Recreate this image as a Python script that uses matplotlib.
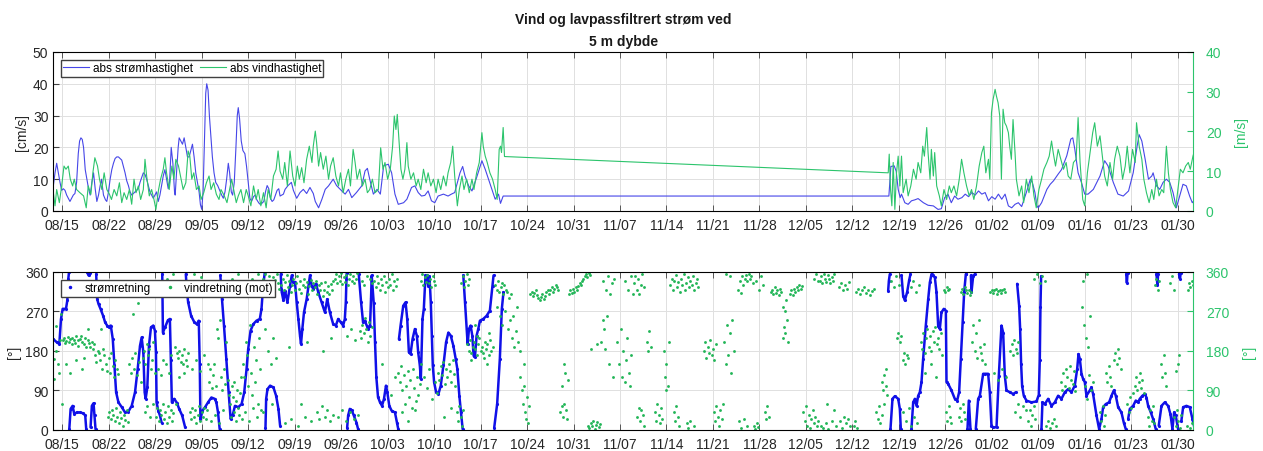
import numpy as np
import matplotlib
matplotlib.use('Agg')
import matplotlib.pyplot as plt
import matplotlib.dates as mdates
from datetime import datetime

plt.rcParams['font.family'] = ['Liberation Sans', 'DejaVu Sans']

# day 0 = 15 Aug, values as (day, value)
cur_speed = [
    (-1.35, 8), (-1.1, 12), (-0.85, 15), (-0.6, 12), (-0.35, 9), (-0.1, 6.5), (0.15, 7), (0.4, 6.5),
    (0.65, 5), (0.9, 4), (1.15, 3), (1.4, 4), (1.65, 5), (1.9, 5.5), (2.15, 9), (2.4, 18), (2.6, 22),
    (2.8, 23), (3.0, 22.5), (3.2, 20), (3.45, 13), (3.7, 10), (3.95, 7), (4.2, 5), (4.45, 9), (4.7, 12),
    (4.95, 7), (5.2, 3), (5.45, 5), (5.7, 8), (5.9, 10), (6.2, 5), (6.5, 3.5), (6.7, 3), (6.95, 6),
    (7.2, 10), (7.45, 13), (7.7, 15), (7.95, 16.5), (8.2, 17), (8.45, 17), (8.7, 16.5), (8.95, 16),
    (9.2, 14), (9.45, 12), (9.7, 9.5), (9.95, 8), (10.2, 6), (10.45, 5), (10.7, 5.5), (10.95, 6),
    (11.2, 6.5), (11.45, 7), (11.7, 9), (11.95, 10.5), (12.2, 12), (12.45, 11.5), (12.7, 10), (12.95, 8),
    (13.2, 6), (13.45, 5), (13.7, 4), (13.95, 5), (14.2, 6), (14.45, 3), (14.7, 5), (14.95, 8), (15.2, 11),
    (15.45, 13), (15.7, 10), (15.95, 7), (16.15, 9), (16.4, 20), (16.65, 15), (16.9, 6), (17.0, 5),
    (17.2, 12), (17.45, 20), (17.6, 23), (17.85, 22), (18.1, 21), (18.35, 23), (18.6, 20), (18.85, 17),
    (19.1, 17), (19.35, 19), (19.6, 21), (19.85, 17), (20.1, 12), (20.35, 9), (20.6, 6), (20.8, 2),
    (21.0, 0.5), (21.2, 6), (21.4, 22), (21.6, 37), (21.75, 40), (21.95, 38), (22.15, 30), (22.35, 24),
    (22.6, 17), (22.85, 12), (23.1, 9), (23.4, 8), (23.7, 6.5), (24.0, 5), (24.25, 4), (24.5, 6),
    (24.75, 10), (25.0, 15), (25.2, 12), (25.45, 6), (25.65, 5), (25.9, 9), (26.15, 20), (26.35, 30),
    (26.5, 32.5), (26.7, 29), (26.95, 22), (27.2, 19), (27.5, 18), (27.75, 14), (28.0, 9), (28.25, 4),
    (28.5, 3), (28.8, 4.5), (29.05, 5), (29.3, 3.5), (29.6, 2.5), (29.85, 2), (30.1, 2.5), (30.35, 3),
    (30.6, 6), (30.85, 8), (31.1, 7), (31.35, 4), (31.6, 3), (31.85, 3.5), (32.1, 5), (32.35, 6.5),
    (32.6, 7), (32.8, 4.7), (33.05, 5), (33.3, 5.3), (33.55, 6.8), (34.0, 8), (34.5, 9), (34.8, 6.5),
    (35.3, 4), (35.8, 5.8), (36.3, 6.8), (36.8, 5.5), (37.3, 7.4), (37.8, 5.5), (38.1, 3), (38.6, 1),
    (39.1, 3.7), (39.6, 6.8), (40.1, 7.9), (40.8, 10), (41.3, 8), (42.1, 6.3), (42.6, 5.3), (43.1, 6.8),
    (43.6, 4.2), (44.3, 5.8), (45.1, 7.9), (45.6, 12.6), (45.95, 13.4), (46.3, 10), (46.85, 5.3),
    (47.4, 6.8), (47.9, 5.3), (48.4, 14.2), (49.1, 14.7), (49.6, 12), (50.1, 5.3), (50.6, 2.1),
    (51.4, 2.6), (51.9, 3.7), (52.6, 7.4), (53.1, 7.9), (53.6, 5.8), (54.1, 4.7), (54.6, 4.9), (55.1, 6.3),
    (55.6, 3.2), (56.1, 2.6), (56.6, 4.7), (57.4, 5.3), (58.1, 4.7), (58.6, 5.3), (59.1, 5.8), (59.9, 12),
    (60.3, 14), (60.65, 11), (61.2, 7.9), (61.7, 6.3), (62.4, 10.5), (63.2, 15.8), (63.7, 13.1), (64.2, 10),
    (64.7, 6.8), (65.2, 3.7), (65.7, 5.3), (66.0, 2.4), (66.4, 4.7), (66.7, 4.7),
    (124.5, 4.7), (124.8, 14), (125.3, 14.2), (125.6, 12.5), (125.9, 6.8), (126.2, 4.2), (126.4, 5.3),
    (126.9, 2.6), (127.4, 2.1), (127.9, 3.2), (128.4, 3.5), (128.9, 3.9), (129.7, 2.6), (130.4, 1.8),
    (131.2, 1.6), (131.9, 0.5), (132.4, 0.7), (132.9, 4.2), (133.4, 5.3), (133.9, 2.6), (134.4, 4.7),
    (134.9, 3.7), (135.5, 4.2), (136.0, 5.3), (136.5, 4.5), (137.0, 5.8), (137.5, 5), (138.0, 6.3),
    (138.5, 5.3), (139.0, 5.8), (139.5, 3.2), (140.0, 4.5), (140.5, 3.7), (141.0, 5.3), (141.5, 3.7),
    (142.0, 5.3), (142.5, 1.6), (143.0, 1), (143.5, 2.1), (144.0, 2.6), (144.5, 1.4), (145.2, 5.8),
    (145.8, 10), (146.1, 9), (146.5, 5.8), (146.8, 1.6), (147.0, 1), (147.5, 2.6), (148.3, 6.8),
    (148.8, 8.4), (149.3, 9.5), (150.0, 11.6), (150.5, 13), (151.3, 17.4), (151.9, 22.6), (152.2, 23),
    (152.5, 19.5), (153.0, 12), (153.5, 9), (154.0, 5.3), (154.5, 5.3), (155.3, 6.8), (156.3, 11),
    (157.0, 15.8), (157.5, 14.2), (158.3, 9), (159.0, 5.3), (159.8, 4.7), (160.6, 6.3), (161.3, 12),
    (161.9, 20.5), (162.2, 24), (162.6, 22), (163.1, 16.3), (163.6, 10), (164.1, 11), (164.3, 12),
    (164.8, 7.9), (165.3, 6.8), (165.8, 9), (166.3, 10), (166.8, 9), (167.3, 5.8), (167.8, 1),
    (168.3, 4.7), (168.8, 8.4), (169.3, 7.9), (169.8, 4.7), (170.2, 2.6), (170.6, 3.7),
]

wind_speed = [
    (-1.35, 4.6), (-1.1, 1.3), (-0.85, 5.4), (-0.45, 2.1), (-0.1, 6.3), (0.25, 11.3), (0.55, 10.5),
    (0.9, 11.3), (1.2, 8), (1.55, 6.3), (1.8, 8), (2.15, 5.4), (2.65, 4.6), (3.2, 3.8), (3.6, 0.8),
    (3.9, 6.3), (4.3, 4.2), (4.6, 9.6), (4.9, 13.4), (5.3, 11.3), (5.6, 8), (5.95, 5.4), (6.3, 9.6),
    (6.7, 5.4), (7.1, 4.2), (7.4, 2.9), (7.8, 5.4), (8.2, 3.8), (8.6, 7.1), (8.95, 2.1), (9.3, 4.6),
    (9.7, 2.9), (10.1, 5.4), (10.45, 1.7), (10.8, 8), (11.1, 4.6), (11.45, 6.3), (11.8, 2.9), (12.2, 5.4),
    (12.45, 13), (12.7, 8.8), (13.1, 3.8), (13.45, 5.4), (13.8, 2.9), (14.1, 0.4), (14.5, 5.4), (14.8, 8),
    (15.2, 10.5), (15.45, 13.4), (15.7, 9.6), (16.1, 5.4), (16.5, 11.3), (16.8, 8), (17.1, 13),
    (17.5, 11.3), (17.8, 8.8), (18.2, 5.4), (18.6, 7.1), (18.95, 15.1), (19.2, 13.8), (19.5, 8),
    (19.8, 9.6), (20.2, 5.4), (20.6, 6.3), (20.9, 2.9), (21.3, 4.6), (21.7, 7.1), (22.1, 8.8), (22.4, 5.4),
    (22.8, 7.1), (23.2, 4.2), (23.6, 2.9), (23.9, 5.4), (24.4, 3.8), (24.8, 2.1), (25.2, 5.4), (25.5, 8),
    (25.9, 4.6), (26.2, 2.1), (26.5, 3.8), (26.9, 5.4), (27.3, 2.1), (27.7, 5.4), (28.0, 3.8), (28.4, 1.3),
    (28.8, 6.3), (29.2, 2.9), (29.5, 5.4), (29.9, 1.3), (30.3, 4.6), (30.7, 0.8), (31.0, 5.4), (31.4, 2.9),
    (31.8, 8.8), (32.2, 10.5), (32.5, 15.1), (32.8, 10), (33.2, 8), (33.5, 12.2), (33.9, 6.3), (34.3, 15.1),
    (34.7, 8.8), (35.05, 6.3), (35.4, 11.3), (35.7, 8), (36.05, 10.9), (36.4, 7.1), (36.8, 13),
    (37.2, 16.3), (37.6, 12.2), (37.8, 16.3), (38.1, 20.1), (38.3, 17.2), (38.6, 11.3), (38.9, 14.7),
    (39.3, 10.5), (39.7, 13.8), (40.1, 8), (40.4, 11.3), (40.8, 13.4), (41.2, 8.8), (41.6, 6.3),
    (41.9, 9.6), (42.3, 4.6), (42.7, 8), (43.1, 10.5), (43.4, 6.3), (43.8, 15.5), (44.1, 12.2), (44.4, 8),
    (44.8, 10.5), (45.2, 6.3), (45.6, 8), (45.95, 4.6), (46.3, 5.4), (46.7, 8), (47.1, 4.6), (47.6, 5.4),
    (47.95, 15.9), (48.3, 10.5), (48.6, 12.2), (49.0, 8), (49.4, 10.5), (49.75, 16.3), (50.0, 23.9),
    (50.25, 20.5), (50.45, 24.3), (50.7, 18), (51.0, 10.5), (51.3, 8), (51.6, 10.5), (51.9, 17.2),
    (52.1, 11.3), (52.5, 8), (52.9, 9.6), (53.3, 6.3), (53.6, 8), (54.0, 5.4), (54.4, 10.5), (54.8, 7.1),
    (55.1, 9.6), (55.5, 6.3), (55.9, 8), (56.3, 4.6), (56.6, 8), (57.0, 5.4), (57.4, 8.8), (57.8, 6.3),
    (58.1, 9.6), (58.5, 12.2), (58.8, 16.3), (59.1, 8.8), (59.5, 1.3), (59.8, 5.4), (60.2, 8.8),
    (60.5, 5.4), (60.9, 8), (61.3, 4.6), (61.7, 8), (62.0, 5.4), (62.4, 9.6), (62.8, 12.2), (63.2, 19.7),
    (63.4, 16.3), (63.7, 13.8), (64.0, 12.2), (64.4, 9.6), (64.8, 8), (65.2, 5.4), (65.5, 2.9),
    (65.8, 15.5), (66.0, 16.3), (66.15, 14.7), (66.4, 21), (66.6, 13.7),
    (124.4, 9.6), (124.55, 14.3), (124.75, 5.4), (124.95, 1.3), (125.15, 12.2), (125.4, 0.4),
    (125.65, 9.6), (125.9, 13.8), (126.15, 6.3), (126.4, 13.8), (126.65, 4.6), (127.1, 8), (127.4, 3.8),
    (127.8, 6.3), (128.2, 10.5), (128.6, 8), (128.9, 12.2), (129.3, 9.6), (129.6, 16.3), (129.85, 13.8),
    (130.2, 21), (130.4, 14.7), (130.7, 8), (130.9, 15.5), (131.2, 8.8), (131.4, 14.7), (131.7, 6.3),
    (132.1, 3.8), (132.4, 1.3), (132.8, 5.4), (133.2, 2.9), (133.6, 6.3), (133.9, 4.6), (134.3, 6.3),
    (134.7, 3.8), (135.1, 8), (135.45, 13), (135.8, 9.6), (136.2, 6.3), (136.6, 3.8), (136.95, 5.4),
    (137.3, 2.9), (137.7, 6.3), (138.1, 11.3), (138.5, 14.7), (138.8, 16.3), (139.1, 9.6), (139.5, 13),
    (139.7, 8), (139.95, 24.7), (140.2, 28.1), (140.5, 30.6), (140.7, 28.9), (140.95, 27.2), (141.2, 23.9),
    (141.45, 8), (141.7, 25.6), (141.95, 22.2), (142.2, 21.4), (142.5, 19.7), (142.7, 16.3), (142.95, 13),
    (143.2, 23), (143.5, 14.7), (143.7, 8), (144.1, 3.8), (144.5, 6.3), (144.8, 2.1), (145.2, 8),
    (145.6, 4.6), (146.0, 8.8), (146.35, 3.8), (146.7, 0.8), (147.1, 5.4), (147.5, 8), (147.85, 10.5),
    (148.3, 12.2), (148.65, 13.8), (149.0, 17.6), (149.25, 14.7), (149.6, 11.3), (150.0, 15.5),
    (150.4, 13), (150.8, 10.5), (151.2, 12.2), (151.5, 8.8), (151.9, 8), (152.3, 12.2), (152.7, 13),
    (153.0, 23.5), (153.3, 12.2), (153.7, 2.9), (154.0, 1.3), (154.4, 9.6), (154.8, 14.7), (155.2, 19.7),
    (155.5, 22.2), (155.9, 16.3), (156.3, 18.9), (156.7, 13), (157.0, 8.8), (157.4, 6.3), (157.8, 12.2),
    (158.2, 8), (158.5, 13), (158.9, 16.3), (159.3, 13.8), (159.7, 8), (160.1, 11.3), (160.4, 16.3),
    (160.8, 9.6), (161.2, 15.5), (161.6, 12.2), (161.8, 22.2), (162.2, 16.3), (162.6, 13), (162.9, 8),
    (163.3, 4.6), (163.7, 2.1), (164.1, 5.4), (164.4, 2.9), (164.8, 8), (165.2, 3.8), (165.6, 5.4),
    (165.9, 4.6), (166.3, 16.3), (166.6, 9.6), (166.9, 5.4), (167.3, 2.1), (167.7, 0.8), (168.1, 6.3),
    (168.4, 10.5), (168.8, 9.6), (169.2, 11.3), (169.6, 12.2), (169.9, 10.5), (170.3, 13.8), (170.6, 15.5),
]

cur_dir = [
    (-1.36, 207), (-0.85, 200), (-0.45, 196), (-0.2, 253), (0.05, 276), (0.55, 276), (0.75, 295),
    (0.9, 344), (1.0, 359), (1.05, 2), (1.25, 48), (1.55, 55), (1.8, 36), (2.15, 40), (2.65, 40),
    (3.15, 38), (3.45, 33), (3.6, 2), (3.75, 359), (3.95, 352), (4.1, 358), (4.25, 6), (4.45, 55),
    (4.7, 61), (4.85, 33), (5.0, 2), (5.1, 355), (5.25, 298), (5.45, 287), (5.75, 276), (6.15, 260),
    (6.45, 245), (6.75, 238), (7.05, 234), (7.3, 238), (7.6, 207), (7.85, 147), (8.1, 86), (8.45, 63),
    (8.95, 52), (9.45, 40), (9.95, 42), (10.45, 55), (10.95, 86), (11.35, 139), (11.7, 192), (11.95, 211),
    (12.2, 177), (12.4, 86), (12.55, 71), (12.8, 97), (13.05, 192), (13.35, 234), (13.7, 238),
    (13.95, 226), (14.1, 177), (14.2, 63), (14.45, 44), (14.7, 33), (14.95, 17), (15.05, 355),
    (15.15, 222), (15.5, 235), (15.9, 250), (16.2, 253), (16.35, 160), (16.5, 63), (16.85, 71),
    (17.25, 62), (17.6, 48), (18.05, 33), (18.5, 6), (18.6, 355), (18.75, 320), (18.95, 291), (19.4, 260),
    (19.9, 245), (20.25, 241), (20.55, 249), (20.7, 150), (20.8, 25), (21.1, 44), (21.5, 52), (21.95, 63),
    (22.45, 74), (22.95, 71), (23.2, 63), (23.45, 40), (23.7, 2), (23.8, 352), (24.05, 298), (24.35, 238),
    (24.7, 162), (25.05, 86), (25.35, 25), (25.65, 33), (26.0, 55), (26.5, 52), (27.0, 59), (27.4, 86),
    (27.75, 139), (28.0, 185), (28.35, 226), (28.75, 241), (29.25, 249), (29.75, 253), (30.0, 276),
    (30.25, 329), (30.5, 359), (30.6, 5), (30.7, 71), (30.9, 93), (31.3, 101), (31.8, 97), (32.2, 78),
    (32.55, 48), (32.8, 10), (32.9, 355), (33.0, 321), (33.05, 314), (33.3, 295), (33.55, 317),
    (33.9, 291), (34.3, 329), (34.55, 352), (34.8, 336), (35.05, 336), (35.3, 291), (35.55, 253),
    (35.8, 215), (35.95, 196), (36.15, 230), (36.4, 268), (36.8, 298), (37.3, 352), (37.55, 329),
    (37.8, 321), (38.2, 333), (38.55, 314), (39.05, 291), (39.55, 268), (39.9, 298), (40.3, 268),
    (40.8, 241), (41.2, 238), (41.55, 253), (41.95, 245), (42.3, 238), (42.55, 253), (42.7, 291),
    (42.8, 345), (42.85, 358), (42.9, 5), (43.05, 33), (43.3, 48), (43.6, 45), (43.9, 33), (44.3, 17),
    (44.55, 2), (44.65, 355), (45.0, 291), (45.3, 245), (45.55, 249), (45.85, 238), (46.1, 230),
    (46.35, 238), (46.5, 300), (46.6, 352), (46.9, 290), (47.1, 200), (47.3, 120), (47.55, 75),
    (47.85, 63), (48.15, 55), (48.45, 71), (48.75, 101), (48.95, 86), (49.25, 55), (49.6, 44),
    (50.1, 40), (50.4, 17), (50.6, 2), (50.7, 207), (50.95, 238), (51.35, 283), (51.7, 291), (51.95, 253),
    (52.2, 177), (52.45, 173), (52.75, 207), (53.1, 230), (53.4, 215), (53.6, 177), (53.85, 147),
    (54.0, 116), (54.25, 253), (54.45, 276), (54.7, 352), (54.9, 352), (55.1, 329), (55.3, 350),
    (55.5, 291), (55.65, 215), (55.8, 147), (56.0, 109), (56.3, 86), (56.65, 82), (57.0, 101),
    (57.4, 147), (57.8, 200), (58.15, 222), (58.5, 215), (58.9, 192), (59.25, 162), (59.5, 139),
    (59.8, 78), (60.05, 40), (60.3, 2), (60.4, 352), (60.65, 291), (60.9, 230), (61.05, 196),
    (61.25, 230), (61.5, 238), (61.75, 215), (61.95, 169), (62.15, 166), (62.4, 215), (62.65, 230),
    (62.9, 249), (63.4, 253), (63.9, 260), (64.4, 272), (64.8, 329), (64.95, 352), (65.05, 5),
    (65.5, 60), (65.9, 162), (66.2, 276), (66.45, 314),
    (124.39, 317), (124.5, 340), (124.64, 355), (124.74, 2), (125.04, 71), (125.4, 77), (125.9, 71),
    (126.15, 48), (126.3, 2), (126.4, 352), (126.65, 306), (126.9, 295), (127.25, 314), (127.55, 341),
    (127.75, 355), (127.9, 2), (128.16, 63), (128.41, 71), (128.66, 55), (128.91, 78), (129.16, 86),
    (129.41, 109), (129.66, 162), (130.06, 238), (130.42, 298), (130.67, 336), (130.92, 355),
    (131.07, 352), (131.42, 348), (131.67, 314), (131.92, 238), (132.17, 230), (132.42, 268),
    (132.77, 276), (133.08, 272), (133.18, 109), (133.43, 105), (133.93, 90), (134.43, 71), (134.78, 67),
    (135.08, 86), (135.33, 162), (135.59, 245), (135.84, 314), (136.09, 355), (136.19, 355), (136.34, 2),
    (136.54, 67), (136.79, 2), (136.85, 352), (136.94, 314), (137.19, 350), (137.44, 355), (137.59, 2),
    (137.95, 71), (138.2, 78), (138.7, 128), (138.95, 128), (139.45, 128), (139.7, 86), (139.95, 10),
    (140.2, 6), (140.71, 6), (141.06, 124), (141.46, 238), (141.71, 222), (141.96, 124), (142.21, 90),
    (142.71, 86), (143.22, 82), (143.62, 86), (143.82, 333), (144.12, 283), (144.27, 230), (144.42, 150),
    (144.57, 100), (144.82, 78), (145.22, 67), (145.98, 63), (146.73, 65), (147.08, 80), (147.23, 160),
    (147.33, 280), (147.43, 350), (147.48, 2), (147.63, 63), (147.99, 59), (148.49, 71), (148.99, 55),
    (149.49, 63), (149.99, 78), (150.5, 71), (151.0, 86), (151.5, 93), (152.0, 86), (152.5, 101),
    (152.86, 139), (153.06, 173), (153.26, 162), (153.51, 128), (153.76, 116), (154.01, 109),
    (154.26, 78), (154.76, 90), (155.01, 97), (155.26, 82), (155.77, 33), (156.17, 2), (156.52, 25),
    (156.77, 52), (157.17, 59), (157.67, 63), (158.03, 78), (158.38, 90), (158.68, 78), (159.03, 52),
    (159.53, 40), (159.88, 17), (160.18, 2), (160.25, 355), (160.35, 335), (160.45, 358), (160.54, 25),
    (160.79, 48), (161.29, 55), (161.69, 67), (162.04, 63), (162.29, 71), (162.69, 78), (163.05, 82),
    (163.3, 74), (163.55, 55), (163.95, 40), (164.3, 25), (164.7, 2), (164.8, 355), (164.95, 330),
    (165.05, 355), (165.15, 10), (165.56, 55), (166.06, 63), (166.56, 55), (166.91, 36), (167.21, 2),
    (167.46, 40), (167.71, 33), (168.06, 2), (168.2, 355), (168.35, 345), (168.45, 358), (168.55, 20),
    (168.82, 52), (169.32, 55), (169.82, 52), (170.22, 25), (170.57, 2), (170.83, 40), (171.08, 71),
]

wind_dir = [
    (-1.3, 162), (-1.2, 116), (-1.0, 238), (-0.9, 180), (-0.7, 150), (-0.5, 130), (-0.3, 205), (-0.2, 265), (-0.1, 60),
    (0.1, 205), (0.3, 210), (0.4, 198), (0.6, 203), (0.8, 212), (1.0, 200), (1.2, 207), (1.4, 195), (1.5, 210),
    (1.7, 204), (1.9, 199), (2.1, 213), (2.3, 206), (2.4, 192), (2.6, 208), (2.8, 215), (3.0, 201), (3.2, 196),
    (3.4, 209), (3.6, 190), (3.8, 204), (4.0, 198), (4.2, 188), (4.4, 200), (4.6, 185), (4.8, 195),
    (0.5, 150), (1.1, 130), (2.0, 160), (2.9, 140), (3.3, 165), (3.9, 230),
    (4.9, 170), (5.1, 155), (5.3, 180), (5.5, 175), (5.7, 160), (5.9, 230), (6.1, 185), (6.3, 170), (5.0, 320), (6.0, 140),
    (6.6, 150), (6.8, 135), (7.0, 165), (7.2, 130), (7.4, 175), (7.6, 145), (7.8, 120), (8.0, 160), (8.2, 140), (8.4, 128),
    (6.9, 30), (7.1, 40), (7.3, 25), (7.5, 45), (7.7, 35), (7.9, 20), (8.1, 50), (8.3, 30), (8.5, 15), (8.7, 40),
    (8.9, 28), (9.1, 10), (9.3, 35), (9.5, 22), (9.7, 45), (9.9, 18),
    (10.1, 150), (10.3, 130), (10.5, 165), (10.8, 140), (11.0, 175), (11.2, 125), (11.5, 155), (11.8, 110), (10.7, 265), (11.4, 290),
    (12.1, 165), (12.3, 180), (12.5, 150), (12.7, 195), (12.9, 170), (13.1, 185), (13.3, 140), (13.5, 160), (13.7, 200),
    (13.9, 130), (12.4, 40), (12.8, 55), (13.2, 30), (13.6, 60),
    (14.1, 30), (14.3, 50), (14.5, 20), (14.7, 45), (14.9, 35), (15.1, 60), (15.3, 25), (15.5, 40), (15.7, 15), (15.9, 55),
    (16.1, 30), (16.3, 45), (16.5, 20), (16.7, 38), (14.4, 140), (14.8, 125), (15.2, 160), (15.6, 150), (16.0, 130),
    (16.4, 170), (15.0, 330), (15.8, 345), (16.6, 355),
    (17.0, 190), (17.2, 175), (17.4, 165), (17.6, 180), (17.8, 155), (18.0, 170), (18.2, 150), (18.4, 185), (18.6, 160),
    (18.8, 145), (19.0, 175), (17.5, 120), (18.3, 130), (17.1, 60),
    (19.2, 40), (19.4, 25), (19.6, 50), (19.8, 30), (20.0, 45), (20.2, 15), (20.4, 35), (20.6, 55), (20.8, 20), (21.0, 40),
    (21.2, 30), (21.4, 50), (21.6, 25), (21.8, 45), (19.5, 140), (20.1, 160), (20.7, 135), (21.3, 170), (21.9, 150),
    (19.9, 355), (20.9, 348),
    (22.1, 110), (22.3, 140), (22.5, 95), (22.7, 125), (22.9, 150), (23.1, 100), (23.3, 230), (23.5, 210), (23.7, 250),
    (23.9, 120), (24.1, 90), (24.3, 140), (24.5, 105), (24.7, 200), (24.9, 115), (22.4, 20), (23.0, 35), (23.6, 15), (24.2, 45),
    (25.1, 80), (25.3, 60), (25.5, 100), (25.7, 75), (25.9, 110), (26.1, 65), (26.3, 90), (26.5, 50), (26.7, 85), (26.9, 120),
    (25.4, 30), (25.8, 40), (26.2, 20), (26.6, 35), (27.0, 25), (25.6, 345), (26.4, 355), (26.8, 340),
    (27.2, 150), (27.4, 120), (27.6, 200), (27.8, 170), (28.0, 100), (28.2, 240), (28.4, 130), (28.6, 80), (28.8, 190),
    (29.0, 110), (29.2, 160), (29.4, 60), (29.6, 210), (29.8, 140), (27.5, 40), (28.1, 20), (28.7, 50), (29.3, 30),
    (29.9, 45), (28.5, 345), (29.5, 355),
    (30.1, 330), (30.3, 345), (30.5, 355), (30.7, 320), (30.9, 340), (31.1, 350), (31.3, 325), (31.5, 338), (31.7, 348),
    (31.9, 330), (32.1, 342), (32.3, 355), (32.5, 335), (32.7, 322), (30.6, 230), (31.0, 180), (31.4, 150), (31.8, 210),
    (32.2, 165), (30.2, 40), (31.6, 60),
    (33.0, 330), (33.2, 345), (33.4, 320), (33.6, 338), (33.8, 352), (34.0, 325), (34.2, 340), (34.4, 315), (34.6, 330),
    (34.8, 345), (35.0, 318), (35.2, 335), (35.4, 350), (35.6, 322), (35.8, 340), (36.0, 312), (36.2, 330), (36.4, 345),
    (36.6, 325), (36.8, 338), (37.0, 310), (37.2, 328), (37.4, 342), (37.6, 318), (37.8, 335), (33.5, 15), (34.5, 25),
    (35.5, 10), (36.5, 30), (37.5, 20), (34.1, 190), (36.9, 200), (35.9, 60),
    (38.0, 325), (38.2, 340), (38.4, 310), (38.6, 330), (38.8, 318), (39.0, 335), (39.2, 305), (39.4, 320), (39.6, 338),
    (39.8, 315), (40.0, 328), (40.2, 310), (40.4, 332), (40.6, 318), (40.8, 340), (38.3, 40), (38.7, 25), (39.1, 55),
    (39.5, 30), (39.9, 45), (40.3, 20), (40.7, 35), (39.3, 180), (40.5, 210),
    (41.0, 345), (41.2, 355), (41.4, 335), (41.6, 350), (41.8, 340), (42.0, 358), (42.2, 332), (42.4, 348), (42.6, 338),
    (42.8, 352), (43.0, 330), (43.2, 345), (43.4, 355), (43.6, 340), (43.8, 350), (44.0, 335), (44.2, 345), (44.4, 358),
    (41.5, 30), (42.1, 45), (42.7, 20), (43.3, 40), (43.9, 25), (44.5, 35), (42.9, 215), (43.5, 230), (44.1, 205),
    (44.8, 225), (45.0, 210), (45.2, 240), (45.4, 220), (45.6, 255), (45.8, 230), (46.0, 200), (46.2, 245), (46.4, 215),
    (46.6, 235), (45.1, 340), (45.5, 330), (45.9, 350), (46.3, 345), (46.7, 335), (47.0, 340), (47.2, 325), (47.4, 350),
    (47.6, 335), (47.8, 320), (48.0, 345), (48.2, 330), (48.4, 350), (48.6, 315), (48.8, 338), (49.0, 325), (49.2, 345),
    (49.4, 330), (49.6, 355), (49.8, 320), (50.0, 340), (50.2, 328), (50.4, 345), (48.1, 150), (49.5, 80), (50.1, 120),
    (50.6, 130), (50.8, 110), (51.0, 145), (51.2, 90), (51.4, 125), (51.6, 60), (51.8, 100), (52.0, 135), (52.2, 75),
    (52.4, 115), (52.6, 50), (52.8, 140), (53.0, 95), (53.2, 65), (53.4, 120), (53.6, 80), (53.8, 105), (51.1, 40),
    (52.1, 20), (53.1, 45),
    (54.0, 340), (54.2, 355), (54.4, 330), (54.6, 348), (54.8, 338), (55.0, 352), (55.2, 335), (55.4, 345), (55.6, 325),
    (55.8, 350), (56.0, 340), (56.2, 330), (54.1, 150), (54.5, 120), (54.9, 95), (55.3, 140), (55.7, 70), (56.1, 110), (56.4, 85),
    (56.6, 130), (56.8, 115), (57.0, 145), (57.2, 125), (57.4, 155), (57.6, 105), (57.8, 140), (58.0, 120), (58.2, 150),
    (58.4, 135), (58.6, 110), (58.8, 160), (59.0, 128), (59.2, 100), (59.4, 40), (59.6, 20), (59.8, 55), (60.0, 30),
    (60.2, 10), (60.4, 45), (58.5, 50), (57.5, 30),
    (60.1, 335), (60.3, 350), (60.5, 325), (60.7, 340), (60.9, 355), (61.1, 330), (61.3, 345),
    (61.0, 195), (61.2, 180), (61.4, 205), (61.6, 175), (61.8, 190), (62.0, 200), (62.2, 185), (62.4, 170), (62.6, 195),
    (62.8, 210), (63.0, 180), (63.2, 190), (63.4, 175), (63.6, 200), (63.8, 185), (64.0, 195), (64.2, 170), (64.4, 205),
    (64.6, 180), (64.8, 190), (61.5, 160), (62.5, 215), (63.5, 165), (64.3, 220), (62.1, 240), (63.9, 150),
    (65.2, 330), (65.4, 320), (65.6, 340), (65.8, 315), (66.0, 325), (66.2, 335), (66.4, 310), (66.6, 330), (66.8, 320),
    (67.0, 315), (67.3, 300), (67.6, 310), (65.5, 280), (65.9, 260), (66.3, 240), (66.7, 270), (67.1, 230), (67.4, 250),
    (67.7, 210), (68.0, 190), (68.3, 225), (68.6, 200), (68.9, 180), (67.9, 260), (68.5, 280),
    (69.0, 120), (69.2, 90), (69.4, 60), (69.5, 150), (69.7, 40), (69.9, 25), (70.0, 75), (70.2, 15), (70.3, 55), (69.6, 100),
    (70.5, 310), (70.7, 315), (70.9, 305), (71.1, 312), (71.3, 318), (71.5, 308), (71.7, 300), (71.9, 295), (72.1, 302),
    (72.3, 310), (72.5, 298), (72.7, 305), (72.9, 315), (73.1, 320), (73.3, 310), (73.5, 318), (73.7, 325), (73.9, 315),
    (74.1, 322), (74.3, 330), (74.5, 325), (74.7, 318),
    (75.0, 40), (75.2, 55), (75.4, 30), (75.6, 60), (75.8, 45), (76.0, 25), (75.3, 100), (75.7, 130), (76.1, 115), (75.5, 150),
    (76.3, 310), (76.5, 318), (76.7, 312), (76.9, 322), (77.1, 315), (77.3, 325), (77.5, 318), (77.7, 328), (77.9, 335),
    (78.1, 330), (78.3, 340), (78.5, 345), (78.7, 350), (78.9, 355), (79.1, 348), (79.3, 358), (79.5, 352),
    (79.2, 10), (79.4, 5), (79.6, 15), (79.8, 8), (80.0, 20), (80.2, 3), (80.4, 12), (80.6, 18), (80.8, 6), (81.0, 14),
    (79.7, 185), (80.5, 195),
    (81.2, 200), (81.4, 250), (81.6, 230), (81.8, 185), (82.0, 260), (81.5, 340), (81.9, 320), (82.2, 350), (82.5, 310),
    (82.8, 335), (83.1, 345), (82.4, 150), (83.0, 120),
    (83.5, 200), (83.8, 150), (84.1, 230), (84.3, 120), (84.5, 180), (84.7, 110), (84.9, 160), (85.1, 210), (85.3, 130),
    (85.5, 100), (85.7, 170), (84.8, 340), (85.2, 320), (85.6, 350), (85.9, 310),
    (86.1, 335), (86.3, 350), (86.5, 320), (86.7, 345), (86.9, 310), (87.1, 330), (87.3, 355), (87.6, 325), (86.6, 30),
    (86.8, 50), (87.0, 20), (87.2, 45), (87.4, 35), (87.6, 10), (88.0, 200), (88.2, 180), (88.4, 225), (88.6, 190),
    (89.2, 40), (89.4, 20), (89.6, 60), (89.8, 35), (90.0, 15), (90.2, 50), (90.4, 25), (90.6, 180), (90.8, 120), (91.0, 150),
    (91.2, 100), (91.4, 200), (90.9, 90),
    (91.6, 330), (91.8, 345), (92.0, 320), (92.2, 340), (92.4, 352), (92.6, 325), (92.8, 338), (93.0, 315), (93.2, 345),
    (93.4, 330), (93.6, 355), (93.8, 320), (94.0, 335), (94.2, 348), (94.4, 325), (94.6, 340), (94.8, 330), (95.0, 350),
    (95.2, 320), (95.4, 335), (95.6, 345), (95.8, 325), (92.1, 40), (92.3, 20), (92.5, 55), (92.7, 30), (92.9, 10),
    (94.1, 15), (94.3, 5), (94.5, 20), (95.1, 8),
    (96.6, 180), (96.8, 200), (97.0, 165), (97.2, 190), (97.4, 175), (97.6, 205), (97.8, 170), (98.0, 185), (98.2, 160),
    (98.4, 195), (98.1, 40), (98.3, 20), (98.5, 55), (98.7, 30), (98.9, 10), (99.1, 45), (99.3, 25), (99.5, 60),
    (99.7, 200), (99.9, 150), (100.1, 240), (100.3, 170), (100.5, 220), (100.7, 130), (100.9, 250), (101.1, 180),
    (100.0, 355), (100.6, 350),
    (101.8, 320), (102.0, 340), (102.2, 313), (102.4, 350), (102.6, 330), (102.8, 345), (103.0, 352), (103.2, 340),
    (103.4, 355), (103.6, 345), (103.8, 350), (104.0, 335), (101.9, 20), (102.3, 5), (102.7, 25), (103.1, 10),
    (104.2, 10), (104.4, 3), (104.6, 15), (104.8, 6), (105.8, 40), (106.0, 25), (106.2, 55), (106.4, 30), (104.5, 340),
    (104.9, 320), (105.3, 350), (105.6, 330),
    (106.7, 315), (106.9, 320), (107.1, 310), (107.3, 325), (107.5, 312), (107.7, 318), (107.9, 308), (108.1, 322), (108.3, 315),
    (108.5, 210), (108.7, 235), (108.9, 220), (109.1, 250), (109.3, 200), (108.6, 280), (109.0, 295), (108.8, 270),
    (109.6, 310), (109.8, 318), (110.0, 308), (110.2, 322), (110.4, 315), (110.6, 325), (110.8, 318), (111.0, 330),
    (111.2, 322), (111.4, 328),
    (111.6, 40), (111.8, 20), (112.0, 55), (112.2, 10), (112.4, 35), (112.6, 5), (112.8, 25), (113.0, 45), (113.2, 15),
    (113.4, 30), (113.6, 8), (113.8, 20), (113.2, 345), (113.5, 355), (113.8, 340),
    (114.1, 340), (114.3, 350), (114.5, 335), (114.7, 355), (114.9, 345), (115.1, 338), (115.3, 352), (115.5, 343),
    (115.7, 335), (115.9, 348), (116.1, 340), (116.3, 355), (114.2, 10), (114.6, 5), (115.0, 15), (115.4, 3), (116.0, 20),
    (116.5, 8), (115.2, 60), (116.2, 45),
    (117.0, 325), (117.3, 335), (117.6, 318), (117.9, 330), (118.2, 322), (118.5, 336), (117.2, 20), (117.5, 5), (117.8, 30),
    (118.1, 15), (118.4, 25), (118.7, 10),
    (119.5, 315), (119.8, 322), (120.1, 310), (120.4, 318), (120.7, 325), (121.0, 312), (121.3, 320), (121.6, 308),
    (121.9, 316), (122.2, 322), (119.2, 10), (119.4, 20), (119.7, 5), (122.6, 40), (122.8, 25), (123.0, 55), (123.2, 15), (123.4, 35),
    (123.4, 110), (123.6, 90), (123.8, 125), (124.0, 100), (124.2, 80), (123.7, 60), (124.1, 140), (125.7, 210), (125.9, 220),
    (126.1, 200), (126.3, 215), (124.8, 340), (125.2, 325), (125.6, 350), (126.0, 330),
    (126.6, 160), (126.8, 175), (127.0, 150), (127.2, 170), (127.4, 165), (126.7, 40), (127.1, 20), (127.5, 50), (127.9, 10),
    (128.3, 30), (128.7, 15), (127.8, 325), (128.2, 340), (128.6, 315), (129.0, 330),
    (129.3, 200), (129.5, 185), (129.7, 220), (129.9, 175), (130.1, 210), (130.3, 230), (130.5, 190), (130.7, 215),
    (130.9, 180), (131.1, 225), (131.3, 200), (131.5, 235), (131.7, 195), (131.9, 210), (132.1, 185), (132.3, 220),
    (132.5, 170), (130.0, 130), (130.8, 150), (131.6, 120),
    (132.8, 320), (133.0, 315), (133.2, 325), (133.4, 318), (133.6, 322), (133.1, 40), (133.3, 20), (133.5, 55), (133.7, 30), (133.9, 15),
    (135.3, 315), (135.5, 322), (135.7, 310), (135.9, 325), (136.1, 318), (136.3, 312), (136.5, 320), (136.7, 308), (136.9, 315),
    (135.0, 30), (135.2, 50), (135.4, 20), (135.6, 60), (135.8, 40), (136.0, 25), (137.0, 200), (137.2, 240), (137.4, 180),
    (137.6, 220), (137.8, 165), (138.0, 250), (138.2, 190), (138.4, 175), (138.6, 160), (138.8, 195), (139.0, 150),
    (139.8, 315), (140.0, 320), (140.2, 312), (140.4, 318), (140.6, 322), (140.8, 310), (141.0, 316), (141.2, 320),
    (141.4, 312), (141.6, 318), (141.8, 322), (142.0, 315), (140.3, 130), (140.9, 115), (141.5, 140), (142.2, 120),
    (142.8, 180), (143.0, 195), (143.2, 170), (143.4, 205), (143.6, 185), (143.8, 175), (144.0, 200), (143.5, 40),
    (143.9, 60), (144.3, 30), (144.7, 55), (145.1, 45),
    (145.5, 20), (145.7, 45), (145.9, 10), (146.1, 35), (146.3, 55), (146.5, 25), (146.4, 345), (146.8, 355), (147.2, 335),
    (147.6, 350), (148.0, 340), (148.2, 10), (148.5, 20), (148.8, 5), (149.1, 15), (149.4, 25), (149.7, 8),
    (150.4, 110), (150.6, 90), (150.8, 130), (151.0, 100), (151.2, 140), (151.4, 120), (151.6, 95), (151.8, 145),
    (152.0, 115), (152.2, 105), (152.4, 135), (152.6, 88),
    (153.6, 280), (153.9, 240), (154.2, 210), (154.5, 190), (154.8, 260), (153.8, 340), (154.4, 355), (154.1, 100),
    (154.3, 70), (154.6, 125), (154.9, 90), (155.2, 110),
    (156.3, 40), (156.5, 20), (156.7, 55), (156.9, 10), (157.1, 35), (157.2, 130), (157.4, 110), (157.6, 145), (157.8, 120), (158.0, 100),
    (158.4, 160), (158.6, 175), (158.8, 150), (159.0, 185), (159.2, 165), (159.4, 140),
    (160.4, 60), (160.6, 40), (160.8, 75), (161.0, 50), (161.2, 85), (161.5, 100), (161.7, 120), (161.9, 90), (162.1, 110),
    (162.3, 130), (162.5, 95), (162.7, 115), (162.9, 85),
    (163.5, 30), (163.7, 10), (163.9, 45), (164.1, 20), (164.3, 55), (164.5, 15), (164.6, 330), (164.8, 345), (165.0, 320), (165.2, 340),
    (165.5, 150), (165.7, 120), (165.9, 170), (166.1, 130), (166.3, 100),
    (166.8, 335), (167.1, 350), (167.4, 320), (167.5, 30), (167.7, 10), (167.9, 45), (168.1, 20), (168.3, 5), (168.5, 35),
    (168.0, 150), (168.2, 170), (167.8, 135),
    (169.5, 320), (169.7, 335), (169.9, 325), (170.1, 340), (170.3, 330), (170.5, 335), (169.4, 10), (169.8, 5), (170.2, 15),
]

tick_days = np.arange(0, 169, 7)

blue = '#4646e8'
green = '#2cc46c'
dot_green = '#1fb555'
start = mdates.date2num(datetime(2022, 8, 15))


def to_xy(pts):
    a = np.array(pts, dtype=float)
    return start + a[:, 0], a[:, 1]


def break_wraps(x, y):
    # no line across the 0/360 wrap or across the data gap
    xs, ys = [x[0]], [y[0]]
    for i in range(1, len(x)):
        if abs(y[i] - y[i - 1]) > 180 or x[i] - x[i - 1] > 2:
            xs.append(np.nan)
            ys.append(np.nan)
        xs.append(x[i])
        ys.append(y[i])
    return np.array(xs), np.array(ys)


def style_xaxis(ax):
    ax.set_xlim(start - 1.36, start + 170.35)
    ax.set_xticks(start + tick_days)
    ax.xaxis.set_major_formatter(mdates.DateFormatter('%m/%d'))
    ax.tick_params(axis='x', direction='in', top=True, length=4, width=0.6, labelsize=10, pad=5,
                   color='0.25', labelcolor='0.15')
    ax.grid(True, color='0.88', lw=0.7)
    for s in ax.spines.values():
        s.set_color('0.25')
        s.set_linewidth(0.7)


fig = plt.figure(figsize=(12.63, 4.52), dpi=100)

# top: speeds
ax1 = fig.add_axes([0.0422, 0.531, 0.9026, 0.3518])
ax1r = ax1.twinx()
x, y = to_xy(cur_speed)
h1, = ax1.plot(x, y, color=blue, lw=0.8)
x, y = to_xy(wind_speed)
h2, = ax1r.plot(x, y, color=green, lw=0.8)
style_xaxis(ax1)
ax1.set_ylim(0, 50)
ax1.set_yticks([0, 10, 20, 30, 40, 50])
ax1.tick_params(axis='y', direction='in', length=4, labelsize=10, right=False, color='0.25', labelcolor='0.15')
ax1.set_ylabel('[cm/s]', fontsize=10, labelpad=3, color='0.15')
ax1r.set_ylim(0, 40)
ax1r.set_yticks([0, 10, 20, 30, 40])
ax1r.tick_params(axis='y', direction='in', length=4, labelsize=10, colors=green, pad=9)
ax1r.set_ylabel('[m/s]', fontsize=10, color=green, labelpad=9)
ax1r.spines['right'].set_color(green)
ax1r.legend([h1, h2], ['abs strømhastighet', 'abs vindhastighet'], loc='upper left',
            bbox_to_anchor=(0.0068, 0.95), ncol=2, fontsize=8.5, frameon=True, fancybox=False,
            edgecolor='0.25', framealpha=1, borderpad=0.2, handlelength=2.2, handletextpad=0.3,
            columnspacing=0.6, borderaxespad=0)

# bottom: directions
ax2 = fig.add_axes([0.0422, 0.0465, 0.9026, 0.3496])
ax2r = ax2.twinx()
x, y = to_xy(cur_dir)
bx, by = break_wraps(x, y)
ax2.plot(bx, by, color='#1010e8', lw=1.8, solid_capstyle='round')
ax2.plot(x, y, '.', color='#1010e8', ms=2.5)
x, y = to_xy(wind_dir)
ax2r.plot(x, y, '.', color=dot_green, ms=2.2, alpha=0.9)
style_xaxis(ax2)
ax2.set_ylim(0, 360)
ax2.set_yticks([0, 90, 180, 270, 360])
ax2.tick_params(axis='y', direction='in', length=4, labelsize=10, right=False, color='0.25', labelcolor='0.15')
ax2.set_ylabel('[°]', fontsize=10, labelpad=3, color='0.15')
ax2r.set_ylim(0, 360)
ax2r.set_yticks([0, 90, 180, 270, 360])
ax2r.tick_params(axis='y', direction='in', length=4, labelsize=10, colors=green, pad=9)
ax2r.set_ylabel('[°]', fontsize=10, color=green, labelpad=9)
ax2r.spines['right'].set_color(green)
m1, = ax2.plot([], [], '.', color='#1010e8', ms=3)
m2, = ax2.plot([], [], '.', color=dot_green, ms=3)
ax2r.legend([m1, m2], ['strømretning', 'vindretning (mot)'], loc='upper left',
            bbox_to_anchor=(0.0068, 0.95), ncol=2, fontsize=8.5, frameon=True, fancybox=False,
            edgecolor='0.25', framealpha=1, borderpad=0.2, handlelength=1.2, handletextpad=0.6,
            columnspacing=1.0, borderaxespad=0)

fig.text(0.4935, 0.956, 'Vind og lavpassfiltrert strøm ved', ha='center', va='center',
         fontsize=10, fontweight='bold', color='0.1')
fig.text(0.4935, 0.906, '5 m dybde', ha='center', va='center', fontsize=10, fontweight='bold', color='0.1')

fig.savefig('out.png', dpi=100)
